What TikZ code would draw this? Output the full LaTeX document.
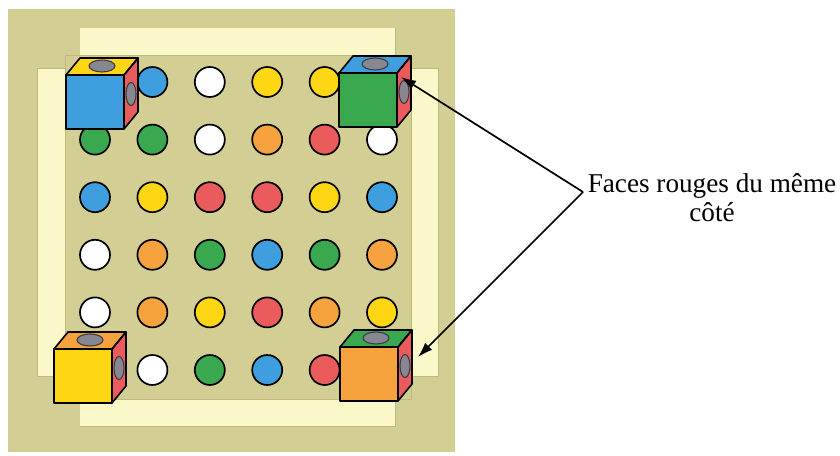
\documentclass[tikz,border=0pt]{standalone}
\usepackage{fontspec}
\setmainfont{Liberation Serif}
\usetikzlibrary{arrows.meta}
\definecolor{khaki}{RGB}{211,207,148}
\definecolor{khakidark}{RGB}{188,185,125}
\definecolor{band}{RGB}{250,247,200}
\definecolor{cblue}{RGB}{62,158,222}
\definecolor{cgreen}{RGB}{58,168,78}
\definecolor{cyellow}{RGB}{255,214,20}
\definecolor{corange}{RGB}{246,162,62}
\definecolor{cred}{RGB}{234,92,92}
\definecolor{hole}{RGB}{135,135,145}
\definecolor{holeedge}{RGB}{60,60,65}
\tikzset{
  dot/.style={circle,draw=black,line width=1.7bp,minimum size=30bp,inner sep=0pt},
  cubeedge/.style={draw=black,line width=1.6bp,line join=round},
  holestyle/.style={fill=hole,draw=holeedge,line width=1.1bp},
  pointer/.style={draw=black,line width=1.7bp,-{Latex[length=15bp,width=10bp]}}
}
\newcommand\drawcube[4]{%
  \begin{scope}[shift={#1}]
    \begin{scope}
      \clip (0,0) -- (14,-17) -- (72,-17) -- (58,0) -- cycle;
      \fill[#3] (0,0) -- (14,-17) -- (72,-17) -- (58,0) -- cycle;
      \draw[holestyle] (36,-9) ellipse [x radius=13bp, y radius=6bp];
    \end{scope}
    \begin{scope}
      \clip (58,0) -- (72,-17) -- (72,37) -- (58,54) -- cycle;
      \fill[cred] (58,0) -- (72,-17) -- (72,37) -- (58,54) -- cycle;
      \draw[holestyle] (65,19) ellipse [x radius=5bp, y radius=11.5bp];
    \end{scope}
    \fill[#2] (0,0) rectangle (58,54);
    \draw[cubeedge] (0,0) -- (14,-17) -- (72,-17) -- (58,0) -- cycle;
    \draw[cubeedge] (58,0) -- (72,-17) -- (72,37) -- (58,54);
    \draw[cubeedge] (0,0) rectangle (58,54);
    \coordinate (#4) at (0,0);
  \end{scope}}
\begin{document}
\begin{tikzpicture}[x=1bp,y=-1bp]
\useasboundingbox[fill=white] (0,0) rectangle (840,456);
% board
\fill[khaki] (8,9) rectangle (455,452);
\filldraw[fill=band,draw=khakidark,line width=0.5bp] (80,28) rectangle (395,426);
\filldraw[fill=band,draw=khakidark,line width=0.5bp] (37,68) rectangle (438,376);
\fill[band] (80.3,28.3) rectangle (394.7,425.7);
\filldraw[fill=khaki,draw=khakidark,line width=0.5bp] (65,55) rectangle (411,399);
% dots
\foreach \r/\c/\k in {
  1/2/cblue,1/3/white,1/4/cyellow,1/5/cyellow,
  2/1/cgreen,2/2/cgreen,2/3/white,2/4/corange,2/5/cred,2/6/white,
  3/1/cblue,3/2/cyellow,3/3/cred,3/4/cred,3/5/cyellow,3/6/cblue,
  4/1/white,4/2/corange,4/3/cgreen,4/4/cblue,4/5/cgreen,4/6/corange,
  5/1/white,5/2/corange,5/3/cyellow,5/4/cred,5/5/corange,5/6/cyellow,
  6/2/white,6/3/cgreen,6/4/cblue,6/5/cred}
  \node[dot,fill=\k] (d\r\c) at ({95+57.4*(\c-1)},{82+57.6*(\r-1)}) {};
% cubes
\drawcube{(66,75)}{cblue}{cyellow}{cubeTL}
\drawcube{(339,73)}{cgreen}{cblue}{cubeTR}
\drawcube{(54,349)}{cyellow}{corange}{cubeBL}
\drawcube{(340,347)}{corange}{cgreen}{cubeBR}
% label and pointers
\node[align=center,inner sep=0pt,font=\fontsize{27.3}{29}\selectfont] (label) at (712,198)
  {Faces rouges du même\\côté};
\coordinate (j) at (583,192);
\coordinate (tipTR) at (401,77);
\coordinate (tipBR) at (418,357);
\draw[pointer] (j) -- (tipTR);
\draw[pointer] (j) -- (tipBR);
\end{tikzpicture}
\end{document}
